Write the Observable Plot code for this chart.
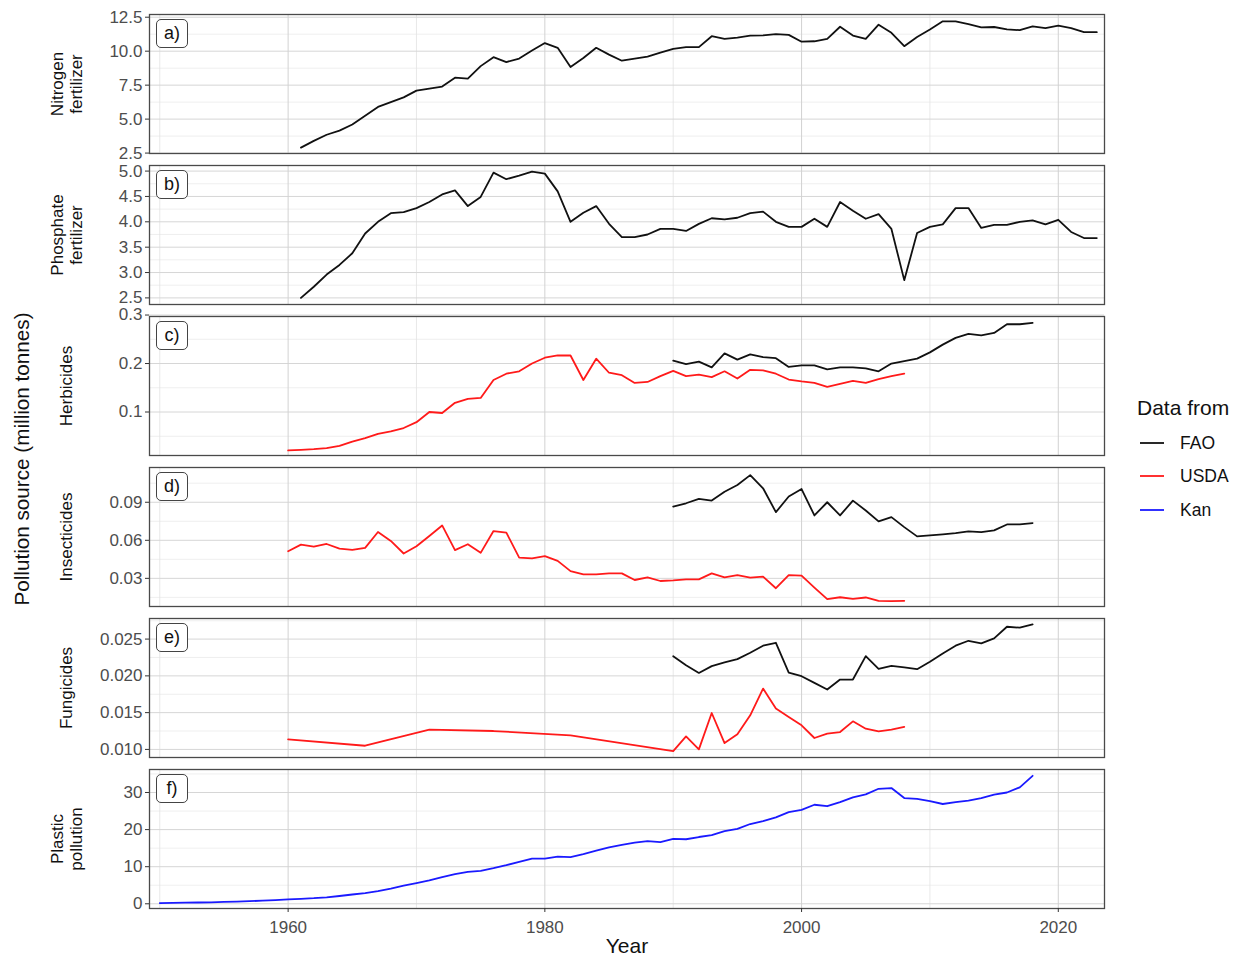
<!DOCTYPE html>
<html>
<head>
<meta charset="utf-8">
<script src="https://cdn.jsdelivr.net/npm/d3@7"></script>
<script src="https://cdn.jsdelivr.net/npm/@observablehq/plot@0.6"></script>
<style>
  body { margin: 0; background: white; }
  #wrap { position: relative; width: 1235px; height: 958px; background: white; font-family: 'Liberation Sans', Arial, Helvetica, sans-serif; overflow: hidden; }
  .pan { position: absolute; left: 0; }
  .tag { position: absolute; left: 156px; width: 30px; height: 27px; border: 1px solid #444; border-radius: 5px; background: white; font-size: 18px; line-height: 27px; text-align: center; color: #111; }
  .ytitle { position: absolute; left: -178px; top: 446px; width: 400px; height: 26px; line-height: 26px; text-align: center; font-size: 20.7px; color: #111; transform: rotate(-90deg); }
  .legtitle { position: absolute; left: 1137px; top: 396px; font-size: 21px; color: #111; }
  .legrow { position: absolute; left: 1138px; height: 20px; display: flex; align-items: center; font-size: 17.5px; color: #111; }
  .legrow svg { margin-right: 14px; }
</style>
</head>
<body>
<div id="wrap"></div>
<script>
// ---------------- data ----------------
const sources = ["FAO", "USDA", "Kan"];
const sourceColors = ["#111111", "#ff1a1a", "#1a1aff"];

const xTicks = [1960, 1980, 2000, 2020];
const xMinorTicks = [1950, 1970, 1990, 2010];

// a) Nitrogen fertilizer, FAO, 1961-2023
const nitrogenFAOStart = 1961;
const nitrogenFAO = [
  2.9, 3.4, 3.85, 4.15, 4.6, 5.25, 5.9, 6.25, 6.6, 7.1,
  7.25, 7.4, 8.05, 7.98, 8.9, 9.56, 9.2, 9.46, 10.05, 10.6,
  10.25, 8.83, 9.5, 10.25, 9.75, 9.3, 9.45, 9.6, 9.9, 10.17,
  10.3, 10.3, 11.1, 10.9, 11.0, 11.15, 11.17, 11.25, 11.2, 10.7,
  10.73, 10.9, 11.8, 11.15, 10.9, 11.95, 11.35, 10.37, 11.05, 11.6,
  12.2, 12.2, 12.0, 11.75, 11.78, 11.6, 11.55, 11.83, 11.7, 11.88,
  11.7, 11.4, 11.4
];

// b) Phosphate fertilizer, FAO, 1961-2023
const phosphateFAOStart = 1961;
const phosphateFAO = [
  2.5, 2.72, 2.96, 3.15, 3.38, 3.77, 4.0, 4.17, 4.19, 4.27,
  4.39, 4.54, 4.62, 4.31, 4.49, 4.97, 4.84, 4.91, 4.99, 4.95,
  4.6, 4.0, 4.18, 4.31, 3.96, 3.7, 3.7, 3.75, 3.86, 3.86,
  3.82, 3.96, 4.07, 4.05, 4.08, 4.17, 4.2, 4.0, 3.9, 3.9,
  4.06, 3.9, 4.39, 4.22, 4.06, 4.15, 3.86, 2.85, 3.78, 3.9,
  3.95, 4.27, 4.27, 3.88, 3.94, 3.94, 4.0, 4.03, 3.95, 4.04,
  3.8, 3.68, 3.68
];

// c) Herbicides
const herbicideUSDAStart = 1960;
const herbicideUSDA = [
  0.0207, 0.022, 0.0234, 0.0255, 0.030, 0.039, 0.046, 0.055, 0.06, 0.067,
  0.079, 0.1, 0.098, 0.119, 0.127, 0.129, 0.166, 0.179, 0.184, 0.2,
  0.212, 0.2166, 0.2166, 0.166, 0.21, 0.181, 0.176, 0.16, 0.162, 0.174,
  0.185, 0.174, 0.177, 0.172, 0.184, 0.169, 0.187, 0.186, 0.179, 0.167,
  0.163, 0.16, 0.152, 0.158, 0.164, 0.16, 0.168, 0.174, 0.179
];
const herbicideFAOStart = 1990;
const herbicideFAO = [
  0.206, 0.199, 0.204, 0.192, 0.221, 0.208, 0.219, 0.213, 0.211, 0.193,
  0.196, 0.196, 0.188, 0.192, 0.192, 0.19, 0.184, 0.2, 0.205, 0.21,
  0.223, 0.239, 0.253, 0.261, 0.258, 0.263, 0.281, 0.281, 0.284
];

// d) Insecticides
const insecticideUSDAStart = 1960;
const insecticideUSDA = [
  0.0514, 0.0566, 0.055, 0.0571, 0.0535, 0.0524, 0.054, 0.0665, 0.0595, 0.0496,
  0.0553, 0.0634, 0.0717, 0.0522, 0.0569, 0.0501, 0.0673, 0.066, 0.0464, 0.0457,
  0.0475, 0.0438, 0.0357, 0.0331, 0.0331, 0.0339, 0.0339, 0.0287, 0.0308, 0.0279,
  0.0284, 0.0292, 0.0292, 0.0339, 0.0308, 0.0326, 0.0305, 0.0313, 0.0222, 0.0326,
  0.0321, 0.0227, 0.0136, 0.0151, 0.0138, 0.0149, 0.0123, 0.012, 0.0123
];
const insecticideFAOStart = 1990;
const insecticideFAO = [
  0.0866, 0.0892, 0.0926, 0.0913, 0.0983, 0.1036, 0.1114, 0.101, 0.0822, 0.0945,
  0.1004, 0.0796, 0.09, 0.0796, 0.0913, 0.0835, 0.0749, 0.0783, 0.0704, 0.0631,
  0.0639, 0.0647, 0.0657, 0.067, 0.0665, 0.0678, 0.0725, 0.0725, 0.0736
];

// e) Fungicides
const fungicideUSDAYears = [1960, 1966, 1971, 1976, 1982,
  1990, 1991, 1992, 1993, 1994, 1995, 1996, 1997, 1998, 1999,
  2000, 2001, 2002, 2003, 2004, 2005, 2006, 2007, 2008];
const fungicideUSDA = [0.01136, 0.0105, 0.01268, 0.0125, 0.0119,
  0.00977, 0.01177, 0.0100, 0.01495, 0.01086, 0.01205, 0.01464, 0.01827, 0.01555, 0.0144,
  0.01327, 0.01155, 0.01214, 0.01236, 0.01382, 0.01282, 0.01245, 0.01268, 0.01305];
const fungicideFAOStart = 1990;
const fungicideFAO = [
  0.02268, 0.02145, 0.0204, 0.02132, 0.02182, 0.02227, 0.02314, 0.0241, 0.0245, 0.02045,
  0.01995, 0.01905, 0.01814, 0.0195, 0.0195, 0.02268, 0.02095, 0.02136, 0.02114, 0.02091,
  0.02191, 0.02305, 0.0241, 0.02477, 0.02441, 0.02509, 0.02668, 0.02655, 0.027
];

// f) Plastic pollution, Kan, 1950-2018
const plasticKanStart = 1950;
const plasticKan = [
  0.2, 0.25, 0.3, 0.35, 0.4, 0.5, 0.6, 0.7, 0.85, 1.0,
  1.2, 1.35, 1.5, 1.75, 2.1, 2.5, 2.9, 3.4, 4.1, 4.9,
  5.6, 6.3, 7.2, 8.0, 8.6, 8.9, 9.6, 10.4, 11.3, 12.2,
  12.2, 12.7, 12.6, 13.4, 14.3, 15.2, 15.9, 16.5, 16.9, 16.6,
  17.5, 17.4, 18.0, 18.5, 19.6, 20.2, 21.5, 22.3, 23.3, 24.7,
  25.3, 26.7, 26.3, 27.4, 28.7, 29.5, 31.0, 31.2, 28.5, 28.3,
  27.7, 26.9, 27.4, 27.8, 28.5, 29.4, 30.0, 31.4, 34.5
];

// panel tick labels / titles
const panelTags = ["a)", "b)", "c)", "d)", "e)", "f)"];
const panelTitles = ["Nitrogen\nfertilizer", "Phosphate\nfertilizer", "Herbicides", "Insecticides", "Fungicides", "Plastic\npollution"];
const yTicksA = [2.5, 5, 7.5, 10, 12.5], yMinorA = [3.75, 6.25, 8.75, 11.25];
const yTicksB = [2.5, 3, 3.5, 4, 4.5, 5], yMinorB = [2.75, 3.25, 3.75, 4.25, 4.75];
const yTicksC = [0.1, 0.2, 0.3], yMinorC = [0.05, 0.15, 0.25];
const yTicksD = [0.03, 0.06, 0.09], yMinorD = [0.015, 0.045, 0.075, 0.105];
const yTicksE = [0.010, 0.015, 0.020, 0.025], yMinorE = [0.0125, 0.0175, 0.0225, 0.0275];
const yTicksF = [0, 10, 20, 30], yMinorF = [5, 15, 25, 35];

// ---------------- build ----------------
function rows(src, values, start, years) {
  return values.map((v, i) => ({year: years ? years[i] : start + i, value: v, source: src}));
}

const panels = [
  {domain: [2.47, 12.7], ticks: yTicksA, minor: yMinorA, fmt: ".1f",
   data: rows("FAO", nitrogenFAO, nitrogenFAOStart)},
  {domain: [2.37, 5.11], ticks: yTicksB, minor: yMinorB, fmt: ".1f",
   data: rows("FAO", phosphateFAO, phosphateFAOStart)},
  {domain: [0.0103, 0.297], ticks: yTicksC, minor: yMinorC, fmt: ".1f",
   data: [...rows("USDA", herbicideUSDA, herbicideUSDAStart), ...rows("FAO", herbicideFAO, herbicideFAOStart)]},
  {domain: [0.0078, 0.1174], ticks: yTicksD, minor: yMinorD, fmt: ".2f",
   data: [...rows("USDA", insecticideUSDA, insecticideUSDAStart), ...rows("FAO", insecticideFAO, insecticideFAOStart)]},
  {domain: [0.0089, 0.0278], ticks: yTicksE, minor: yMinorE, fmt: ".3f",
   data: [...rows("USDA", fungicideUSDA, null, fungicideUSDAYears), ...rows("FAO", fungicideFAO, fungicideFAOStart)]},
  {domain: [-1.27, 36.2], ticks: yTicksF, minor: yMinorF, fmt: "d",
   data: rows("Kan", plasticKan, plasticKanStart)}
];

const wrap = document.getElementById("wrap");
const fontFamily = "'Liberation Sans', Arial, Helvetica, sans-serif";
const panelTop0 = 13.5, panelPitch = 151, panelH = 139;

panels.forEach((p, i) => {
  const last = i === panels.length - 1;
  const mb = last ? 51 : 1;
  const marks = [
    Plot.gridY(p.minor, {stroke: "#ebebeb", strokeOpacity: 1, strokeWidth: 0.8}),
    Plot.gridX(xMinorTicks, {stroke: "#e3e3e3", strokeOpacity: 1, strokeWidth: 0.8}),
    Plot.gridY(p.ticks, {stroke: "#d6d6d6", strokeOpacity: 1, strokeWidth: 1}),
    Plot.gridX(xTicks, {stroke: "#d2d2d2", strokeOpacity: 1, strokeWidth: 1}),
    Plot.line(p.data, {x: "year", y: "value", z: "source", stroke: "source", strokeWidth: 1.8}),
    Plot.frame({stroke: "#4a4a4a", strokeWidth: 1.3}),
    Plot.axisY(p.ticks, {tickFormat: d3.format(p.fmt), tickSize: 4, tickPadding: 3, label: null,
      stroke: "#333", fill: "#4d4d4d", fontSize: 17}),
    Plot.text([panelTitles[i]], {frameAnchor: "left", textAnchor: "middle", dx: -83, rotate: -90, fontSize: 17,
      fill: "#111", lineHeight: 1.1})
  ];
  if (last) {
    marks.push(Plot.axisX(xTicks, {tickFormat: d3.format("d"), tickSize: 4, tickPadding: 8, label: null,
      stroke: "#333", fill: "#4d4d4d", fontSize: 17}));
    marks.push(Plot.text(["Year"], {frameAnchor: "bottom", dy: 44, fontSize: 21, fill: "#111"}));
  }
  const chart = Plot.plot({
    width: 1106,
    height: panelH + 1 + mb,
    marginLeft: 149, marginRight: 2, marginTop: 1, marginBottom: mb,
    style: {fontFamily, fontSize: "17px", background: "transparent", overflow: "visible"},
    x: {domain: [1949.2, 2023.6], axis: null},
    y: {domain: p.domain, axis: null},
    color: {domain: sources, range: sourceColors},
    marks
  });
  chart.classList.add("pan");
  chart.style.top = (panelTop0 + panelPitch * i - 1) + "px";
  wrap.appendChild(chart);

  const tag = document.createElement("div");
  tag.className = "tag";
  tag.textContent = panelTags[i];
  tag.style.top = (panelTop0 + panelPitch * i + 5) + "px";
  wrap.appendChild(tag);
});

// overall y title
const yt = document.createElement("div");
yt.className = "ytitle";
yt.textContent = "Pollution source (million tonnes)";
wrap.appendChild(yt);

// legend
const lt = document.createElement("div");
lt.className = "legtitle";
lt.textContent = "Data from";
wrap.appendChild(lt);
const legendY = [433, 466, 500];
sources.forEach((s, i) => {
  const row = document.createElement("div");
  row.className = "legrow";
  row.style.top = legendY[i] + "px";
  row.innerHTML = `<svg width="28" height="20"><line x1="2" x2="26" y1="10" y2="10" stroke="${sourceColors[i]}" stroke-width="1.8"/></svg><span>${s}</span>`;
  wrap.appendChild(row);
});
</script>
</body>
</html>
